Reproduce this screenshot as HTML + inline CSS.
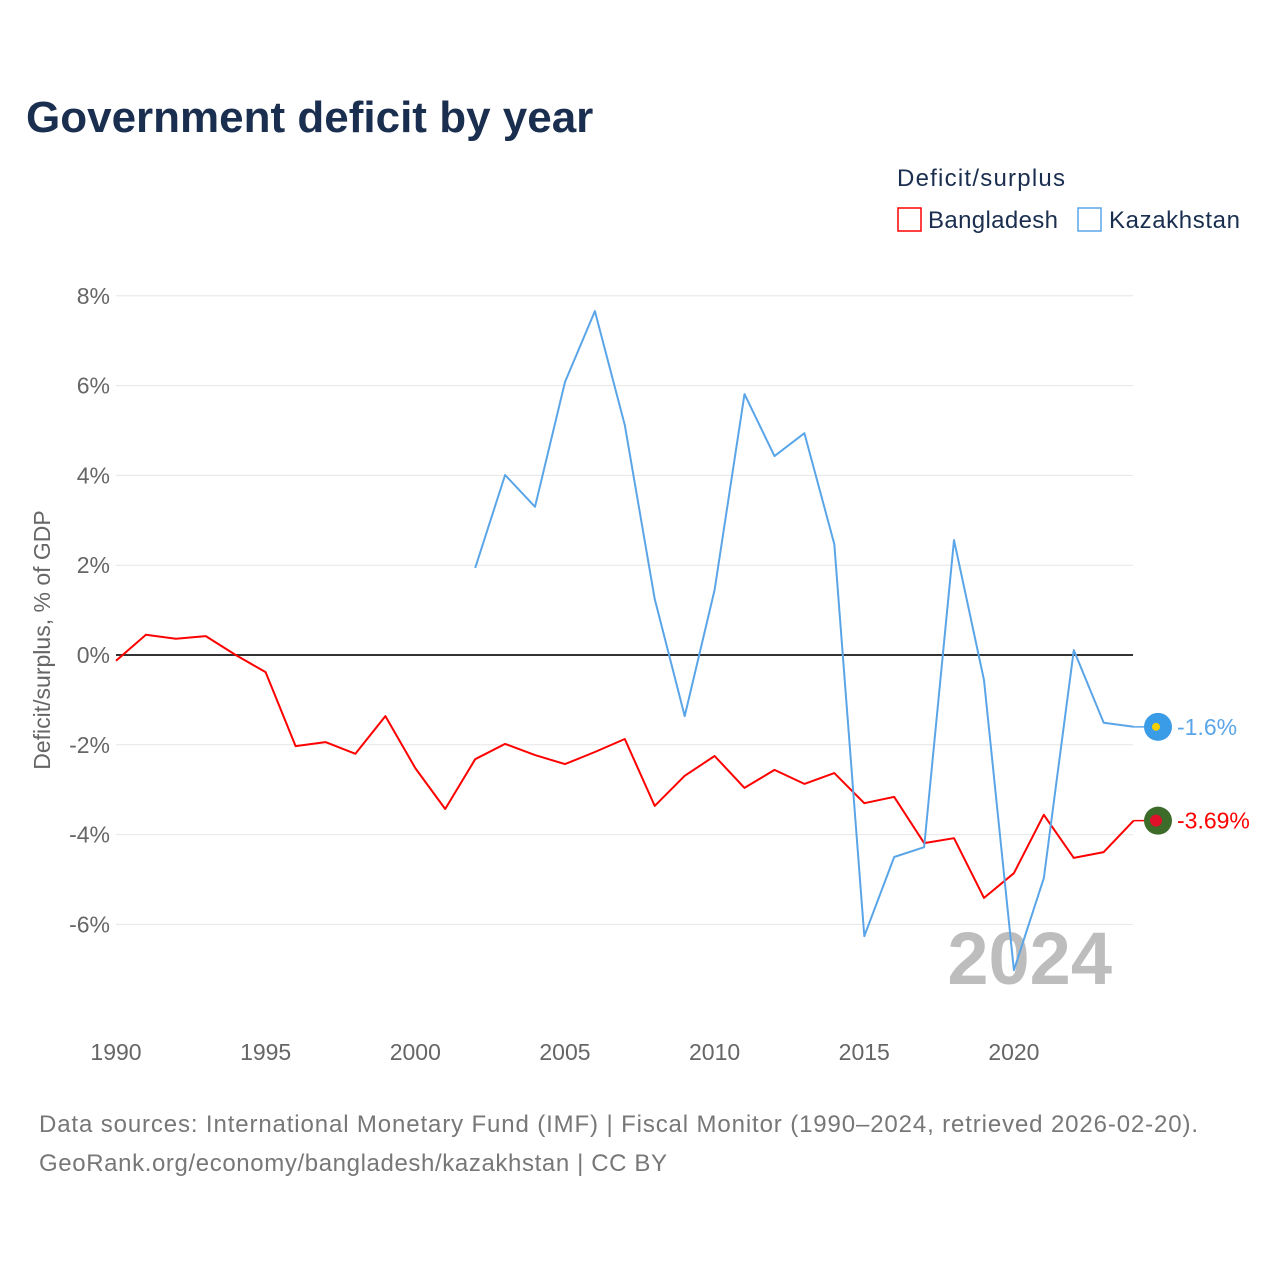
<!DOCTYPE html>
<html><head><meta charset="utf-8">
<style>
html,body{margin:0;padding:0;background:#fff;}
body{width:1280px;height:1280px;overflow:hidden;font-family:"Liberation Sans",sans-serif;}
</style></head>
<body>
<svg id="chart" width="1280" height="1280" viewBox="0 0 1280 1280" xmlns="http://www.w3.org/2000/svg" font-family="Liberation Sans, sans-serif">
  <text x="26" y="132" font-size="44" font-weight="bold" fill="#1a2e4f">Government deficit by year</text>
  <text x="897" y="186" font-size="24" fill="#1a2e4f" textLength="168">Deficit/surplus</text>
  <g>
    <rect x="898" y="208" width="23" height="23" fill="none" stroke="#ff0000" stroke-width="1.5"/>
    <text x="928" y="228" font-size="24" fill="#1a2e4f" textLength="130">Bangladesh</text>
  </g>
  <g>
    <rect x="1078" y="208" width="23" height="23" fill="none" stroke="#5aa5e8" stroke-width="1.5"/>
    <text x="1109" y="228" font-size="24" fill="#1a2e4f" textLength="131">Kazakhstan</text>
  </g>
  <text transform="translate(50,640) rotate(-90)" text-anchor="middle" font-size="23" fill="#666">Deficit/surplus, % of GDP</text>
  <g id="grid"></g>
  <g id="xaxis"></g>
  <text x="1112" y="984" text-anchor="end" font-size="74" font-weight="bold" fill="#bdbdbd">2024</text>
  <g id="series"></g>
  <text x="39" y="1132" font-size="24" fill="#777" textLength="1159">Data sources: International Monetary Fund (IMF) | Fiscal Monitor (1990–2024, retrieved 2026-02-20).</text>
  <text x="39" y="1171" font-size="24" fill="#777" textLength="628">GeoRank.org/economy/bangladesh/kazakhstan | CC BY</text>
</svg>
<script>
const years = [1990,1991,1992,1993,1994,1995,1996,1997,1998,1999,2000,2001,2002,2003,2004,2005,2006,2007,2008,2009,2010,2011,2012,2013,2014,2015,2016,2017,2018,2019,2020,2021,2022,2023,2024];
const bangladesh = [-0.13,0.45,0.36,0.42,0.0,-0.38,-2.03,-1.94,-2.2,-1.36,-2.52,-3.43,-2.32,-1.98,-2.23,-2.43,-2.16,-1.87,-3.36,-2.69,-2.25,-2.96,-2.56,-2.87,-2.63,-3.30,-3.16,-4.19,-4.08,-5.41,-4.86,-3.56,-4.52,-4.39,-3.69];
const kazakhstan = [null,null,null,null,null,null,null,null,null,null,null,null,1.94,4.01,3.30,6.08,7.66,5.12,1.25,-1.36,1.45,5.81,4.43,4.94,2.47,-6.26,-4.5,-4.28,2.56,-0.56,-7.02,-4.97,0.11,-1.51,-1.6];
const yTicks = [8,6,4,2,0,-2,-4,-6];
const xTicks = [1990,1995,2000,2005,2010,2015,2020];
const endLabels = ["-3.69%","-1.6%"];

const NS="http://www.w3.org/2000/svg";
const X = y => 116 + (y-1990)*29.93;
const Y = v => 655 - v*44.9;
function mk(tag, attrs, parent){const e=document.createElementNS(NS,tag);for(const k in attrs)e.setAttribute(k,attrs[k]);parent.appendChild(e);return e;}
const grid=document.getElementById('grid');
yTicks.forEach(t=>{
  const l=mk('line',{x1:116,x2:1133,y1:Y(t),y2:Y(t),stroke:t===0?'#333':'#e6e6e6','stroke-width':t===0?2:1},grid);
  
  
  const tx=mk('text',{x:110,y:Y(t)+8,'text-anchor':'end','font-size':23,fill:'#666'},grid);
  tx.textContent=t+'%';
  
  
});
const xa=document.getElementById('xaxis');
xTicks.forEach(t=>{
  const tx=mk('text',{x:X(t),y:1060,'text-anchor':'middle','font-size':23,fill:'#666'},xa);
  tx.textContent=t;
  
  
});
const ser=document.getElementById('series');
function drawSeries(vals,color,name,label){
  let d='';let last=null;
  vals.forEach((v,i)=>{if(v===null)return;d+=(d?'L':'M')+X(years[i]).toFixed(1)+','+Y(v).toFixed(1);last=v;});
  const p=mk('path',{d:d,fill:'none',stroke:color,'stroke-width':2,'stroke-linejoin':'round'},ser);
  
  
  const ex=X(years[years.length-1]), ey=Y(last);
  mk('line',{x1:ex,x2:1158,y1:ey,y2:ey,stroke:color,'stroke-width':1.5},ser);
  const c=mk('circle',{cx:1158,cy:ey,r:14,fill:name==='bangladesh'?'#3d6b2a':'#3a9be6'},ser);
  
  
  mk('circle',{cx:1156,cy:ey,r:name==='bangladesh'?6:4,fill:name==='bangladesh'?'#e0102a':'#f5d000'},ser);
  const t=mk('text',{x:1177,y:ey+8,'font-size':23,fill:color},ser);
  t.textContent=label;
  
  
}
drawSeries(bangladesh,'#ff0000','bangladesh',endLabels[0]);
drawSeries(kazakhstan,'#5aa5e8','kazakhstan',endLabels[1]);
</script>
</body></html>
